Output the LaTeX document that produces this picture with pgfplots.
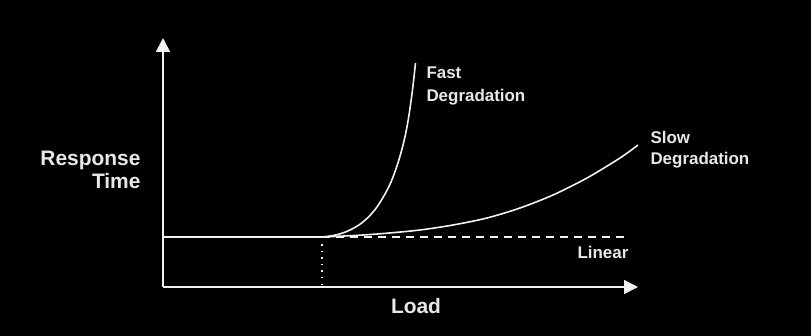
\documentclass[border=0pt]{standalone}
\usepackage{pgfplots}
\pgfplotsset{compat=1.18}
\usepackage{fontspec}
\setmainfont{Liberation Sans}
\usetikzlibrary{arrows.meta}
\definecolor{txt}{HTML}{E8E8E8}
\definecolor{ln}{HTML}{F2F2F2}
\begin{document}
\begin{tikzpicture}
\fill[black] (0,0) rectangle (811bp,336bp);
\begin{axis}[
  at={(163bp,49bp)}, anchor=south west,
  x=1bp, y=1bp,
  xmin=0, xmax=475, ymin=0, ymax=249,
  axis lines=left,
  axis line style={ln, line width=1.7pt},
  x axis line style={-{Triangle[width=14bp,length=14bp]}},
  y axis line style={-{Triangle[width=14bp,length=14bp]}},
  xtick=\empty, ytick=\empty,
  clip=false,
  every axis plot/.append style={ln, line width=1.6pt},
]
% flat section
\addplot[mark=none] coordinates {(0,50) (159,50)};
% dashed linear continuation
\addplot[mark=none, dash pattern=on 8bp off 6bp] coordinates {(159,50) (465,50)};
% dotted knee marker
\addplot[mark=none, line width=1.2pt, dash pattern=on 1.5bp off 5bp] coordinates {(159,2) (159,45)};
% fast degradation
\addplot[mark=none, smooth, tension=0.5] coordinates {
 (159,50) (166,50.8) (174,52.3) (182,54.8) (190,58.5) (198,63.5) (206,70.5) (214,80) (222,93) (228,105) (234,121) (239,138) (243,155) (246,172) (249,193) (251,210) (252.5,224)};
% slow degradation
\addplot[mark=none, smooth, tension=0.5] coordinates {
 (159,50) (177,50.8) (200,52) (224,53.8) (257,57) (290,62) (324,69) (357,79) (390,92) (424,109) (457,129) (475,142)};
\node[txt, font=\fontsize{21}{23}\selectfont\bfseries, align=right, anchor=east] at (axis cs:-19,117) {Response\\Time};
\node[txt, font=\fontsize{21}{23}\selectfont\bfseries] at (axis cs:253,-19) {Load};
\node[txt, font=\fontsize{17}{23}\selectfont\bfseries, align=left, anchor=west] at (axis cs:260,201) {Fast\\Degradation};
\node[txt, font=\fontsize{17}{21}\selectfont\bfseries, align=left, anchor=west] at (axis cs:484,137) {Slow\\Degradation};
\node[txt, font=\fontsize{17}{21}\selectfont\bfseries, anchor=west] at (axis cs:411,35) {Linear};
\end{axis}
\pgfresetboundingbox
\path[use as bounding box] (0,0) rectangle (811bp,336bp);
\end{tikzpicture}
\end{document}
